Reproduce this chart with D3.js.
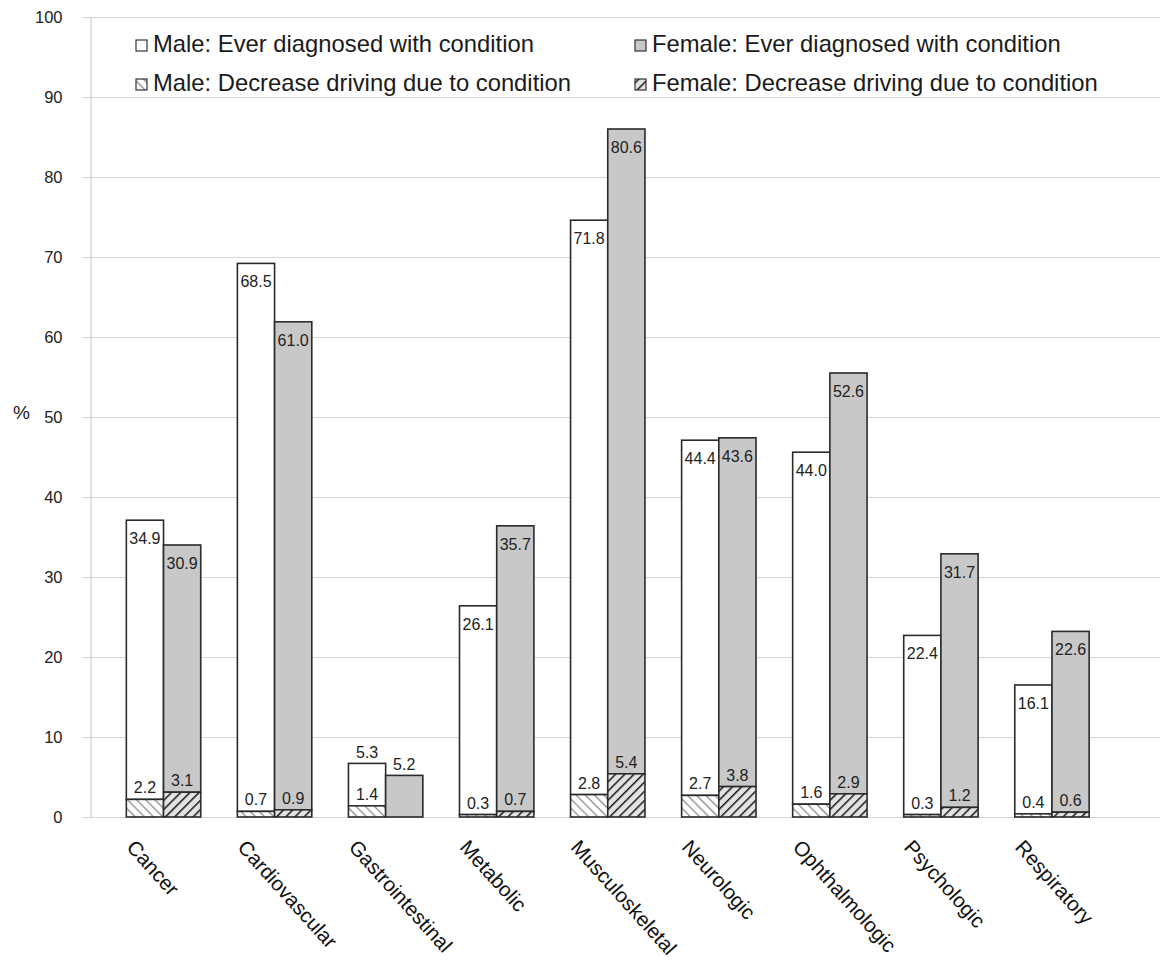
<!DOCTYPE html>
<html>
<head>
<meta charset="utf-8">
<script src="https://cdn.jsdelivr.net/npm/d3@7"></script>
<style>
  html, body { margin: 0; padding: 0; background: #fff; }
  svg { display: block; font-family: "Liberation Sans", Arial, sans-serif; }
</style>
</head>
<body>
<svg id="chart" width="1162" height="977"></svg>
<script>
// ---- data ----
const categories = ["Cancer", "Cardiovascular", "Gastrointestinal", "Metabolic", "Musculoskeletal", "Neurologic", "Ophthalmologic", "Psychologic", "Respiratory"];
const maleDiagnosed = [34.9, 68.5, 5.3, 26.1, 71.8, 44.4, 44.0, 22.4, 16.1];
const maleDecrease = [2.2, 0.7, 1.4, 0.3, 2.8, 2.7, 1.6, 0.3, 0.4];
const femaleDiagnosed = [30.9, 61.0, 5.2, 35.7, 80.6, 43.6, 52.6, 31.7, 22.6];
const femaleDecrease = [3.1, 0.9, 0, 0.7, 5.4, 3.8, 2.9, 1.2, 0.6];
const yTicks = [0, 10, 20, 30, 40, 50, 60, 70, 80, 90, 100];
const sexes = ["Male", "Female"];
const legendLabels = [
  "Male: Ever diagnosed with condition",
  "Female: Ever diagnosed with condition",
  "Male: Decrease driving due to condition",
  "Female: Decrease driving due to condition"
];

const svg = d3.select("#chart");

// patterns
const defs = svg.append("defs");
const pm = defs.append("pattern").attr("id", "hatchMale").attr("patternUnits", "userSpaceOnUse")
  .attr("width", 6.5).attr("height", 6.5).attr("patternTransform", "rotate(-45)");
pm.append("rect").attr("width", 6.5).attr("height", 6.5).attr("fill", "#fff");
pm.append("line").attr("x1", 0).attr("y1", 0).attr("x2", 0).attr("y2", 6.5)
  .attr("stroke", "#8c8c8c").attr("stroke-width", 2.6);
const pf = defs.append("pattern").attr("id", "hatchFemale").attr("patternUnits", "userSpaceOnUse")
  .attr("width", 6.5).attr("height", 6.5).attr("patternTransform", "rotate(45)");
pf.append("rect").attr("width", 6.5).attr("height", 6.5).attr("fill", "#e2e2e2");
pf.append("line").attr("x1", 0).attr("y1", 0).attr("x2", 0).attr("y2", 6.5)
  .attr("stroke", "#1a1a1a").attr("stroke-width", 3);

// scales
const y = d3.scaleLinear().domain([0, 100]).range([817, 17]);
const x = d3.scaleBand().domain(categories).range([108, 1107.5]).paddingInner(0).paddingOuter(0);
const barW = 37.2;
const x1 = d3.scaleBand().domain(sexes)
  .range([(x.bandwidth() - 2 * barW) / 2, (x.bandwidth() + 2 * barW) / 2]);

// gridlines
svg.append("g").selectAll("line").data(yTicks).join("line")
  .attr("x1", 82).attr("x2", 1160)
  .attr("y1", d => Math.round(y(d)) + 0.5).attr("y2", d => Math.round(y(d)) + 0.5)
  .attr("stroke", "#d4d4d4").attr("stroke-width", 1);

// y axis
const yAxis = d3.axisLeft(y).tickValues(yTicks).tickSize(0).tickPadding(0);
const ya = svg.append("g").attr("transform", "translate(90.5,0)").call(yAxis);
ya.select(".domain").attr("stroke", "#c4c4c4");
ya.selectAll("text").attr("x", -28).attr("font-size", 16.5).attr("fill", "#222")
  .attr("font-family", "Liberation Sans, Arial, sans-serif");

svg.append("text").attr("x", 13).attr("y", 419).attr("font-size", 19).attr("fill", "#222").text("%");

// bars
const rows = categories.map((c, i) => ({
  cat: c,
  bars: [
    { sex: "Male", dec: maleDecrease[i], diag: maleDiagnosed[i] },
    { sex: "Female", dec: femaleDecrease[i], diag: femaleDiagnosed[i] }
  ]
}));

const g = svg.append("g");
const cg = g.selectAll("g.cat").data(rows).join("g").attr("class", "cat")
  .attr("transform", d => `translate(${x(d.cat)},0)`);

const bg = cg.selectAll("g.bar").data(d => d.bars).join("g").attr("class", "bar");

// diagnosed segment (stacked on top of decrease)
bg.append("rect")
  .attr("x", d => x1(d.sex)).attr("width", barW)
  .attr("y", d => y(d.dec + d.diag)).attr("height", d => y(d.dec) - y(d.dec + d.diag))
  .attr("fill", d => d.sex === "Male" ? "#ffffff" : "#c8c8c8")
  .attr("stroke", "#2a2a2a").attr("stroke-width", 1.6);

// decrease segment
bg.filter(d => d.dec > 0).append("rect")
  .attr("x", d => x1(d.sex)).attr("width", barW)
  .attr("y", d => y(d.dec)).attr("height", d => y(0) - y(d.dec))
  .attr("fill", d => d.sex === "Male" ? "url(#hatchMale)" : "url(#hatchFemale)")
  .attr("stroke", "#2a2a2a").attr("stroke-width", 1.6);

// labels
bg.append("text")
  .attr("x", d => x1(d.sex) + barW / 2)
  .attr("y", d => d.diag < 10 ? y(d.dec + d.diag) - 5 : y(d.dec + d.diag) + 24)
  .attr("text-anchor", "middle").attr("font-size", 16).attr("fill", "#222")
  .text(d => d.diag.toFixed(1));
bg.filter(d => d.dec > 0).append("text")
  .attr("x", d => x1(d.sex) + barW / 2)
  .attr("y", d => y(d.dec) - 6)
  .attr("text-anchor", "middle").attr("font-size", 16).attr("fill", "#222")
  .text(d => d.dec.toFixed(1));

// x category labels
svg.append("g").selectAll("text").data(categories).join("text")
  .attr("transform", d => `translate(${x(d) + x.bandwidth() / 2 - 38},848) rotate(48)`)
  .attr("font-size", 20.5).attr("fill", "#111").text(d => d);

// legend
const legendItems = [
  { label: legendLabels[0], fill: "#ffffff", col: 0, row: 0 },
  { label: legendLabels[1], fill: "#c8c8c8", col: 1, row: 0 },
  { label: legendLabels[2], fill: "url(#hatchMale)", col: 0, row: 1 },
  { label: legendLabels[3], fill: "url(#hatchFemale)", col: 1, row: 1 }
];
const colX = [136, 635];
const rowY = [52, 91];
const lg = svg.append("g").selectAll("g").data(legendItems).join("g")
  .attr("transform", d => `translate(${colX[d.col]},${rowY[d.row]})`);
lg.append("rect").attr("x", 0).attr("y", -12).attr("width", 11).attr("height", 11)
  .attr("fill", d => d.fill).attr("stroke", "#333").attr("stroke-width", 1.2);
lg.append("text").attr("x", 17).attr("y", 0).attr("font-size", 23.8).attr("fill", "#1a1a1a")
  .text(d => d.label);
</script>
</body>
</html>
